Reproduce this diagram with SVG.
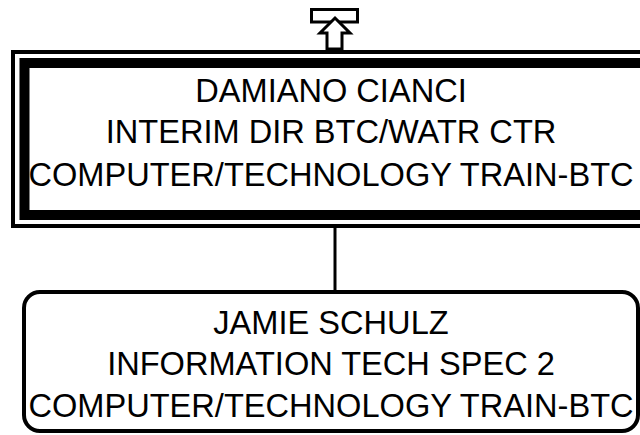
<svg xmlns="http://www.w3.org/2000/svg" width="640" height="435" viewBox="0 0 640 435">
<style>
.t{font-family:"Liberation Sans",Arial,sans-serif;font-size:32.6px;fill:#000;text-anchor:middle}
.b{fill:#fff;stroke:#000}
</style>
<rect width="640" height="435" fill="#fff"/>
<g id="connectors">
<line x1="335" y1="228" x2="335" y2="292" stroke="#000" stroke-width="3"/>
</g>
<g id="up-icon">
<rect class="b" x="311.5" y="9.5" width="46" height="12.5" stroke-width="3"/>
<polygon class="b" points="335,18 350,33 342,33 342,49 327,49 327,33 320,33" stroke-width="3" stroke-linejoin="miter"/>
</g>
<g id="node-damiano">
<rect class="b" x="13" y="52" width="660" height="174" stroke-width="4"/>
<rect class="b" x="24.5" y="63" width="640" height="152" stroke-width="10"/>
<text class="t" x="331" y="102">DAMIANO CIANCI</text>
<text class="t" x="331" y="143">INTERIM DIR BTC/WATR CTR</text>
<text class="t" x="331" y="186">COMPUTER/TECHNOLOGY TRAIN-BTC</text>
</g>
<g id="node-jamie">
<rect class="b" x="24" y="292" width="614" height="139" rx="16" stroke-width="4"/>
<text class="t" x="331" y="334">JAMIE SCHULZ</text>
<text class="t" x="331" y="375">INFORMATION TECH SPEC 2</text>
<text class="t" x="331" y="417">COMPUTER/TECHNOLOGY TRAIN-BTC</text>
</g>
</svg>
